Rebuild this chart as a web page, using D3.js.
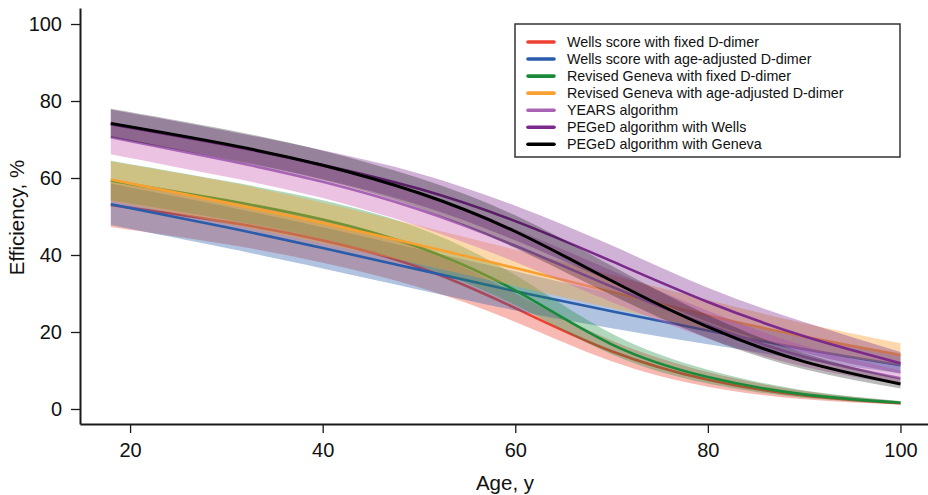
<!DOCTYPE html>
<html>
<head>
<meta charset="utf-8">
<script src="https://cdn.jsdelivr.net/npm/d3@7"></script>
<style>
  html, body { margin: 0; padding: 0; background: #fff; }
  svg { display: block; font-family: "Liberation Sans", Arial, Helvetica, sans-serif; }
</style>
</head>
<body>
<svg id="chart" width="928" height="495"></svg>
<script>
// ---------- DATA ----------
const ages = [18, 30, 40, 50, 60, 70, 80, 90, 100];
const xTicks = [20, 40, 60, 80, 100];
const yTicks = [0, 20, 40, 60, 80, 100];

const seriesNames = [
  "Wells score with fixed D-dimer",
  "Wells score with age-adjusted D-dimer",
  "Revised Geneva with fixed D-dimer",
  "Revised Geneva with age-adjusted D-dimer",
  "YEARS algorithm",
  "PEGeD algorithm with Wells",
  "PEGeD algorithm with Geneva"
];
const lineColors = ["#ee4030", "#2a5caa", "#1a8a3a", "#f8a030", "#a864b4", "#7b2a8c", "#000000"];
const bandColors = ["#ee4030", "#2a5caa", "#1a8a3a", "#f8a030", "#cc66b3", "#7b2a8c", "#000000"];
const bandOpacity = [0.37, 0.37, 0.34, 0.4, 0.4, 0.36, 0.27];

const wellsFixed    = [53.0, 48.6, 43.8, 36.8, 26.2, 15.0, 7.6, 3.5, 1.5];
const wellsFixedLo  = [47.3, 42.8, 38.0, 31.6, 22.6, 12.4, 5.8, 2.5, 1.1];
const wellsFixedHi  = [58.8, 54.2, 49.5, 42.0, 30.0, 17.8, 9.6, 4.7, 2.0];

const wellsAge      = [53.2, 47.2, 41.8, 36.2, 30.6, 25.4, 20.4, 15.6, 11.4];
const wellsAgeLo    = [47.8, 41.8, 36.5, 31.0, 25.6, 21.0, 16.8, 12.8, 9.2];
const wellsAgeHi    = [58.6, 52.6, 47.2, 41.5, 35.8, 30.0, 24.2, 18.6, 14.0];

const genevaFixed   = [59.3, 54.2, 49.2, 42.0, 30.8, 16.8, 8.3, 3.8, 1.6];
const genevaFixedLo = [54.2, 49.2, 44.2, 37.2, 27.0, 14.2, 6.6, 2.9, 1.2];
const genevaFixedHi = [64.5, 59.2, 54.2, 47.0, 34.8, 19.6, 10.2, 4.8, 2.1];

const genevaAge     = [59.6, 53.6, 48.3, 42.6, 36.6, 30.4, 24.3, 18.8, 14.0];
const genevaAgeLo   = [54.0, 48.2, 43.0, 37.6, 31.9, 26.2, 20.6, 15.4, 11.2];
const genevaAgeHi   = [64.3, 59.0, 53.6, 47.6, 41.4, 34.8, 28.3, 22.3, 17.1];

const years         = [70.6, 64.6, 59.0, 51.8, 42.4, 31.8, 21.8, 13.6, 8.0];
const yearsLo       = [66.2, 60.3, 54.8, 47.4, 38.2, 27.8, 18.3, 11.0, 6.3];
const yearsHi       = [74.5, 68.8, 63.2, 56.3, 46.7, 36.0, 25.5, 16.4, 10.0];

const pegedWells    = [74.0, 68.6, 63.4, 57.2, 48.8, 38.4, 27.8, 18.9, 11.9];
const pegedWellsLo  = [70.6, 65.0, 59.7, 53.0, 43.8, 33.0, 22.6, 14.6, 9.2];
const pegedWellsHi  = [77.8, 72.3, 67.2, 61.2, 52.8, 42.5, 31.5, 22.6, 14.8];

const pegedGeneva   = [74.2, 68.8, 63.3, 56.1, 46.1, 33.3, 21.3, 12.3, 6.5];
const pegedGenevaLo = [70.6, 64.9, 59.5, 52.2, 41.8, 29.6, 18.4, 10.3, 5.3];
const pegedGenevaHi = [78.0, 72.6, 67.1, 60.0, 50.3, 37.2, 24.4, 14.5, 7.9];

const seriesMid = [wellsFixed, wellsAge, genevaFixed, genevaAge, years, pegedWells, pegedGeneva];
const seriesLo  = [wellsFixedLo, wellsAgeLo, genevaFixedLo, genevaAgeLo, yearsLo, pegedWellsLo, pegedGenevaLo];
const seriesHi  = [wellsFixedHi, wellsAgeHi, genevaFixedHi, genevaAgeHi, yearsHi, pegedWellsHi, pegedGenevaHi];

// ---------- CHART ----------
const svg = d3.select("#chart");
const x = d3.scaleLinear().domain([14.8, 102.86]).range([80, 928]);
const y = d3.scaleLinear().domain([-3.9, 104.16]).range([424, 8]);

const curve = d3.curveNatural;
const area = d3.area().x(d => x(d.age)).y0(d => y(d.lo)).y1(d => y(d.hi)).curve(curve);
const line = d3.line().x(d => x(d.age)).y(d => y(d.v)).curve(curve);

const plot = svg.append("g");
seriesNames.forEach((name, i) => {
  const pts = ages.map((a, j) => ({ age: a, v: seriesMid[i][j], lo: seriesLo[i][j], hi: seriesHi[i][j] }));
  plot.append("path").datum(pts)
    .attr("d", area)
    .attr("fill", bandColors[i])
    .attr("fill-opacity", bandOpacity[i])
    .attr("stroke", "none");
  plot.append("path").datum(pts)
    .attr("d", line)
    .attr("fill", "none")
    .attr("stroke", lineColors[i])
    .attr("stroke-width", i === 6 ? 3 : 2.6);
});

// Axes
const xAxis = svg.append("g").attr("transform", "translate(0,424)")
  .call(d3.axisBottom(x).tickValues(xTicks).tickSize(9).tickSizeOuter(0).tickPadding(10));
const yAxis = svg.append("g").attr("transform", "translate(80,0)")
  .call(d3.axisLeft(y).tickValues(yTicks).tickSize(9).tickSizeOuter(0).tickPadding(9));
[xAxis, yAxis].forEach(g => {
  g.select(".domain").attr("stroke", "#1a1a1a").attr("stroke-width", 2);
  g.selectAll(".tick line").attr("stroke", "#1a1a1a").attr("stroke-width", 1.3);
  g.selectAll(".tick text").attr("fill", "#111").style("font-size", "20px")
    .style("font-family", '"Liberation Sans", Arial, sans-serif');
});

// Axis titles
svg.append("text").attr("x", 505).attr("y", 490).attr("text-anchor", "middle")
  .style("font-size", "20.5px").attr("fill", "#111").text("Age, y");
svg.append("text").attr("transform", "translate(24,217.5) rotate(-90)").attr("text-anchor", "middle")
  .style("font-size", "20.5px").attr("fill", "#111").text("Efficiency, %");

// Legend
const leg = svg.append("g");
leg.append("rect").attr("x", 515).attr("y", 24).attr("width", 385).attr("height", 133)
  .attr("fill", "#fff").attr("stroke", "#333").attr("stroke-width", 1.5);
seriesNames.forEach((name, i) => {
  const cy = 42 + i * 17.05;
  leg.append("line").attr("x1", 528).attr("x2", 554).attr("y1", cy).attr("y2", cy)
    .attr("stroke", lineColors[i]).attr("stroke-width", 3.6).attr("stroke-linecap", "round");
  leg.append("text").attr("x", 567).attr("y", cy).attr("dy", "0.35em")
    .style("font-size", "14.3px").attr("fill", "#111").text(name);
});
</script>
</body>
</html>
